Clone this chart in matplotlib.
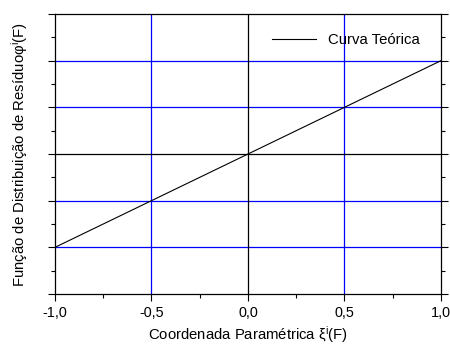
import numpy as np
import matplotlib.pyplot as plt
from matplotlib.ticker import MultipleLocator

plt.rcParams['font.family'] = ['Liberation Sans', 'DejaVu Sans']
plt.rcParams['mathtext.fontset'] = 'custom'
plt.rcParams['mathtext.rm'] = 'Liberation Sans'
plt.rcParams['mathtext.it'] = 'Liberation Sans:italic'

# curva teorica: residuo linear na coordenada parametrica
xi = [-1.0, 1.0]
phi = [-1.0, 1.0]

xticks = [-1.0, -0.5, 0.0, 0.5, 1.0]
xgrid_azul = [-0.5, 0.5]
ygrid_azul = [-1.0, -0.5, 0.5, 1.0]

fig = plt.figure(figsize=(4.5, 3.47), dpi=100)
ax = fig.add_axes([0.1222, 0.1527, 0.8578, 0.807])

for g in ygrid_azul:
    ax.axhline(g, color='#0000ff', lw=0.9, zorder=1)
for g in xgrid_azul:
    ax.axvline(g, color='#0000ff', lw=0.9, zorder=1)
ax.axhline(0, color='black', lw=0.9, zorder=1)
ax.axvline(0, color='black', lw=0.9, zorder=1)

ax.plot(xi, phi, color='black', lw=0.8, label='Curva Teórica', zorder=3)

ax.set_xlim(-1.0, 1.0)
ax.set_ylim(-1.5, 1.5)
ax.set_xticks(xticks)
ax.xaxis.set_minor_locator(MultipleLocator(0.25))
ax.set_xticklabels([('%.1f' % v).replace('.', ',') for v in xticks])
ax.yaxis.set_major_locator(MultipleLocator(0.5))
ax.yaxis.set_minor_locator(MultipleLocator(0.25))
ax.tick_params(axis='y', which='both', left=True, right=True, labelleft=False)
ax.tick_params(which='major', direction='out', length=5, width=0.8, labelsize=10.4)
ax.tick_params(which='minor', direction='out', length=3, width=0.8)
for s in ax.spines.values():
    s.set_linewidth(0.9)

ax.set_xlabel('Coordenada Paramétrica ξ$^{\\mathrm{i}}$(F)', fontsize=10.7, labelpad=3)
ax.set_ylabel('Função de Distribuição de Resíduoφ$^{\\mathrm{i}}$(F)', fontsize=10.7, labelpad=13)

ax.legend(loc='upper right', frameon=False, fontsize=10.7, handlelength=3.0,
          bbox_to_anchor=(0.98, 0.98))

plt.savefig('out.png', dpi=100)
